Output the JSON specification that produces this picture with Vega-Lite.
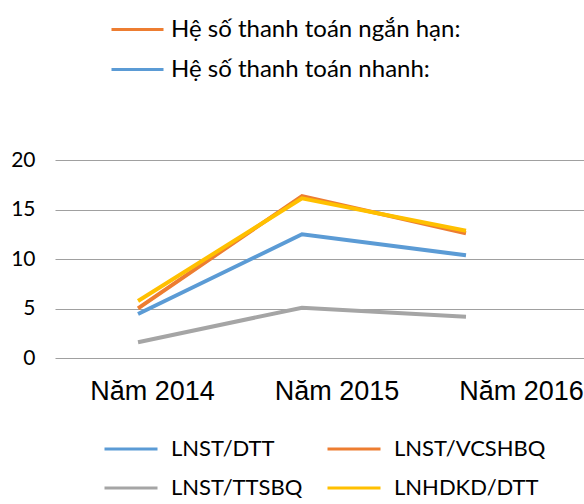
{
  "$schema": "https://vega.github.io/schema/vega-lite/v6.json",
  "width": 529,
  "height": 198,
  "autosize": {"type": "none"},
  "padding": {"left": 55, "top": 160, "right": 0, "bottom": 146},
  "background": "white",
  "config": {"view": {"stroke": null}},
  "datasets": {
    "series": [
      {"year": "Năm 2014", "series": "LNST/DTT", "value": 4.44},
      {"year": "Năm 2015", "series": "LNST/DTT", "value": 12.5},
      {"year": "Năm 2016", "series": "LNST/DTT", "value": 10.37},
      {"year": "Năm 2014", "series": "LNST/TTSBQ", "value": 1.59},
      {"year": "Năm 2015", "series": "LNST/TTSBQ", "value": 5.08},
      {"year": "Năm 2016", "series": "LNST/TTSBQ", "value": 4.17},
      {"year": "Năm 2014", "series": "LNST/VCSHBQ", "value": 5.02},
      {"year": "Năm 2015", "series": "LNST/VCSHBQ", "value": 16.36},
      {"year": "Năm 2016", "series": "LNST/VCSHBQ", "value": 12.6},
      {"year": "Năm 2014", "series": "LNHDKD/DTT", "value": 5.76},
      {"year": "Năm 2015", "series": "LNHDKD/DTT", "value": 16.13},
      {"year": "Năm 2016", "series": "LNHDKD/DTT", "value": 12.86}
    ],
    "ratios": [
      {"year": "Năm 2014", "ratio": "Hệ số thanh toán ngắn hạn:", "value": null},
      {"year": "Năm 2014", "ratio": " Hệ số thanh toán nhanh:", "value": null}
    ],
    "years": [
      {"year": "Năm 2014"},
      {"year": "Năm 2015"},
      {"year": "Năm 2016"}
    ]
  },
  "layer": [
    {
      "data": {"name": "series"},
      "mark": {"type": "line", "strokeWidth": 4},
      "encoding": {
        "x": {"field": "year", "type": "ordinal", "scale": {"type": "point", "padding": 0.613, "align": 0.413}, "axis": null},
        "y": {
          "field": "value", "type": "quantitative",
          "scale": {"domain": [0, 20]},
          "axis": {
            "values": [0, 5, 10, 15, 20], "title": null, "domain": false, "ticks": false,
            "grid": true, "gridColor": "#A0A0A0", "gridWidth": 1.2,
            "labelFont": "Lato", "labelFontSize": 21, "labelColor": "#000000", "labelPadding": 20
          }
        },
        "color": {
          "field": "series", "type": "nominal",
          "scale": {"domain": ["LNST/DTT", "LNST/VCSHBQ", "LNST/TTSBQ", "LNHDKD/DTT"],
                    "range": ["#5B9BD5", "#ED7D31", "#A5A5A5", "#FFC000"]},
          "legend": {
            "title": null, "orient": "none", "legendX": 48, "legendY": 261,
            "direction": "horizontal", "columns": 2, "columnPadding": 18, "rowPadding": -1,
            "symbolType": "stroke", "symbolSize": 2809, "symbolStrokeWidth": 3,
            "labelFont": "Lato", "labelFontSize": 22, "labelColor": "#000000", "labelOffset": 12,
            "labelLimit": 300
          }
        },
        "order": {"field": "series"}
      }
    },
    {
      "data": {"name": "ratios"},
      "mark": {"type": "line", "strokeWidth": 4},
      "encoding": {
        "x": {"field": "year", "type": "ordinal", "scale": {"type": "point", "padding": 0.613, "align": 0.413}, "axis": null},
        "y": {"field": "value", "type": "quantitative"},
        "color": {
          "field": "ratio", "type": "nominal",
          "scale": {"domain": ["Hệ số thanh toán ngắn hạn:", " Hệ số thanh toán nhanh:"],
                    "range": ["#ED7D31", "#5B9BD5"]},
          "legend": {
            "title": null, "orient": "none", "legendX": 55, "legendY": -158,
            "direction": "vertical", "rowPadding": -10,
            "symbolType": "stroke", "symbolSize": 2704, "symbolStrokeWidth": 3,
            "labelFont": "Lato", "labelFontSize": 24, "labelColor": "#000000", "labelOffset": 6,
            "labelLimit": 400
          }
        }
      }
    },
    {
      "data": {"name": "years"},
      "mark": {"type": "text", "text": ""},
      "encoding": {
        "x": {
          "field": "year", "type": "ordinal",
          "scale": {"type": "point", "padding": 0.4336, "align": 0.606},
          "axis": {
            "orient": "bottom", "title": null, "domain": false, "ticks": false, "grid": false,
            "labelFont": "Liberation Sans", "labelFontSize": 27, "labelColor": "#000000",
            "labelPadding": 20, "labelAngle": 0
          }
        }
      }
    }
  ],
  "resolve": {"scale": {"x": "independent", "color": "independent"}}
}
